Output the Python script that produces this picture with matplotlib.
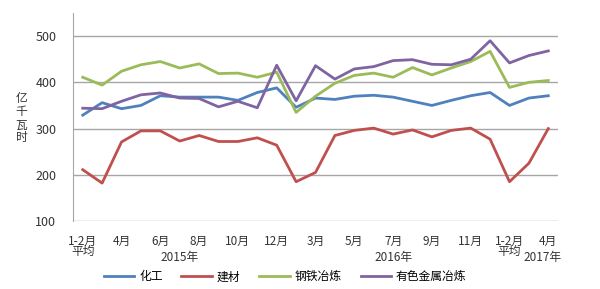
import numpy as np
import matplotlib
matplotlib.use('Agg')
from matplotlib import pyplot as plt

plt.rcParams['font.family'] = ['Noto Sans CJK SC', 'DejaVu Sans']

months = ['1-2月\n平均', '3月', '4月', '5月', '6月', '7月', '8月', '9月', '10月', '11月', '12月',
          '1-2月\n平均', '3月', '4月', '5月', '6月', '7月', '8月', '9月', '10月', '11月', '12月',
          '1-2月\n平均', '3月', '4月']
years = ['2015年', '2016年', '2017年']

huagong = [329, 356, 343, 350, 371, 368, 368, 368, 361, 378, 388,
           346, 366, 363, 370, 372, 368, 359, 350, 361, 371, 378,
           350, 366, 371]
jiancai = [211, 182, 271, 295, 295, 273, 285, 272, 272, 280, 264,
           185, 205, 285, 296, 301, 288, 297, 282, 296, 301, 277,
           185, 225, 300]
gangtie = [411, 394, 424, 438, 445, 431, 440, 419, 420, 411, 422,
           335, 370, 398, 415, 420, 411, 432, 416, 431, 445, 467,
           389, 400, 404]
youse = [344, 343, 359, 373, 377, 366, 365, 347, 359, 345, 437,
         360, 436, 407, 429, 434, 447, 449, 439, 438, 450, 490,
         442, 458, 468]

x = np.arange(len(months))

fig = plt.figure(figsize=(6, 2.89), dpi=100)
ax = fig.add_axes([0.1217, 0.2353, 0.8083, 0.7197])

ax.plot(x, huagong, color='#4F81BD', lw=2, label='化工')
ax.plot(x, jiancai, color='#C0504D', lw=2, label='建材')
ax.plot(x, gangtie, color='#9BBB59', lw=2, label='钢铁冶炼')
ax.plot(x, youse, color='#8064A2', lw=2, label='有色金属冶炼')

ax.set_xlim(-0.5, len(months) - 0.5)
ax.set_ylim(100, 550)
ax.set_yticks([100, 200, 300, 400, 500])
ax.grid(axis='y', color='#A6A6A6', lw=1)
ax.set_axisbelow(True)
for s in ['top', 'right', 'bottom']:
    ax.spines[s].set_visible(False)
ax.spines['left'].set_color('#A6A6A6')
ax.tick_params(axis='y', length=0, pad=12, labelsize=9, labelcolor='#333333')

shown = list(range(0, len(months), 2))
ax.set_xticks(shown)
ax.set_xticklabels([months[i] for i in shown], linespacing=0.75)
ax.tick_params(axis='x', length=0, pad=10, labelsize=8.5, labelcolor='#333333')

for lbl, pos in zip(years, [5, 16, 23.7]):
    ax.text(pos, -0.175, lbl, transform=ax.get_xaxis_transform(), ha='center', va='center',
            fontsize=8.5, color='#333333')

fig.text(0.036, 0.59, '亿\n千\n瓦\n时', ha='center', va='center', fontsize=8.5,
         color='#333333', linespacing=1.0)

fig.legend(loc='center', bbox_to_anchor=(0.475, 0.042), ncol=4, frameon=False,
           fontsize=8.5, handlelength=2.6, columnspacing=1.6, handletextpad=0.4)

fig.savefig('out.png', dpi=100)
